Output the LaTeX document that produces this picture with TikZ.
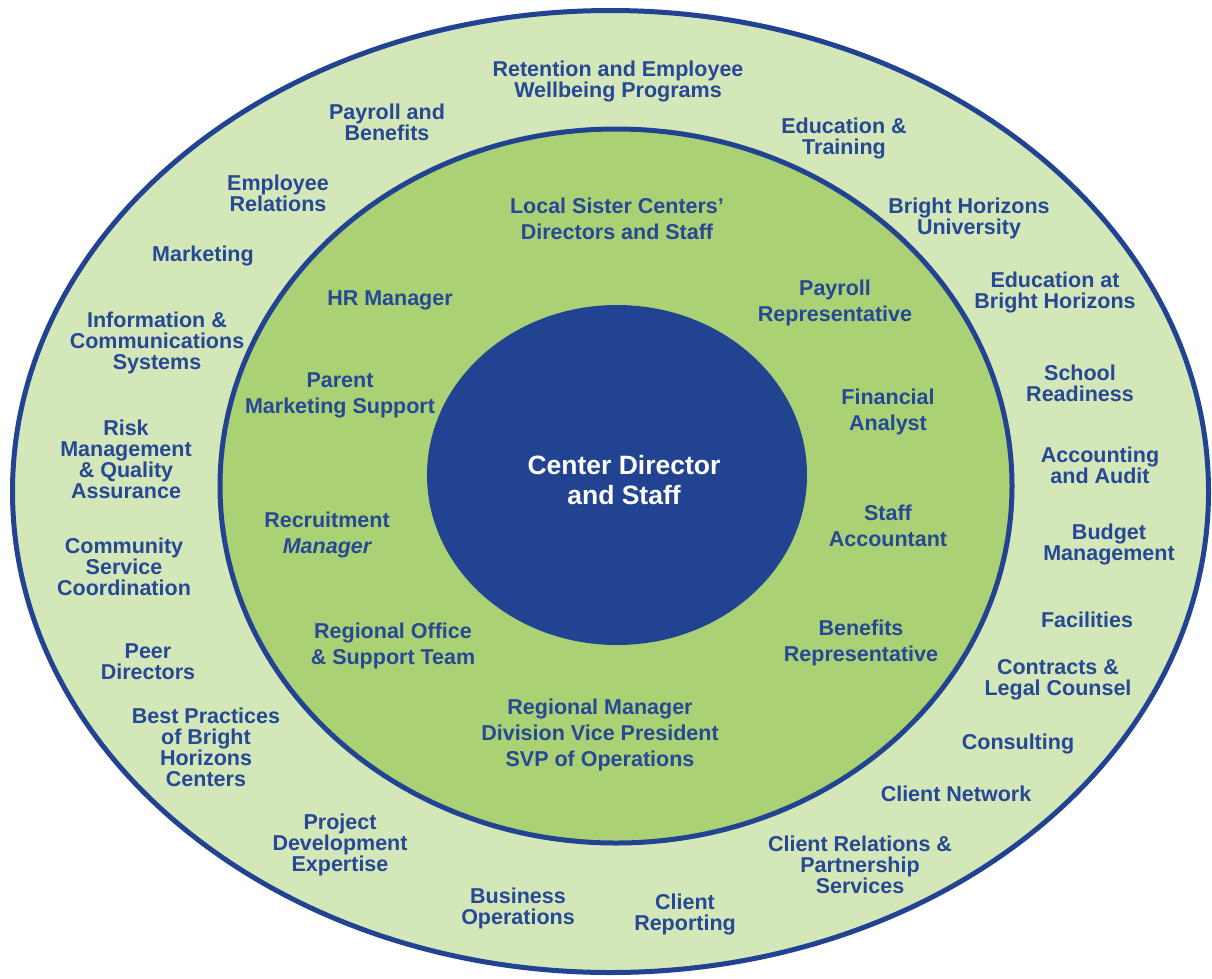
\documentclass[tikz,border=0pt]{standalone}
\usepackage{fontspec}
\setmainfont{Liberation Sans}
\definecolor{outerfill}{HTML}{D3E7B9}
\definecolor{midfill}{HTML}{ABD175}
\definecolor{ringblue}{HTML}{224391}
\definecolor{txtblue}{HTML}{274895}
\tikzset{
  outerlbl/.style={font=\fontsize{21.5}{21}\selectfont\bfseries, text=txtblue, align=center, inner sep=0pt, yshift=-2pt},
  midlbl/.style={font=\fontsize{21.5}{26}\selectfont\bfseries, text=txtblue, align=center, inner sep=0pt, yshift=-2pt},
  centerlbl/.style={font=\fontsize{26.5}{30}\selectfont\bfseries, text=white, align=center, inner sep=0pt, yshift=-1pt},
}
\begin{document}
\begin{tikzpicture}[x=1pt,y=-1pt]
\useasboundingbox (0,0) rectangle (1212,978);
% rings
\path[fill=outerfill, draw=ringblue, line width=5pt] (610.5,491.5) ellipse [x radius=598pt, y radius=481pt];
\path[fill=midfill, draw=ringblue, line width=5pt] (616,486) ellipse [x radius=396pt, y radius=357pt];
\path[fill=ringblue] (617,475) ellipse [x radius=190pt, y radius=170pt];
% center
\node[centerlbl] (core) at (624,479) {Center Director\\and Staff};
% middle ring
\node[midlbl] (m1) at (617,217) {Local Sister Centers'\\Directors and Staff};
\node[midlbl] (m2) at (390,298) {HR Manager};
\node[midlbl] (m3) at (835,301) {Payroll\\Representative};
\node[midlbl] (m4) at (340,393) {Parent\\Marketing Support};
\node[midlbl] (m5) at (888,410) {Financial\\Analyst};
\node[midlbl] (m6) at (327,533) {Recruitment\\{\itshape Manager}};
\node[midlbl] (m7) at (888,524) {Staff\\Accountant};
\node[midlbl] (m8) at (393,644) {Regional Office\\\& Support Team};
\node[midlbl] (m9) at (861,641) {Benefits\\Representative};
\node[midlbl] (m10) at (600,733) {Regional Manager\\Division Vice President\\SVP of Operations};
% outer ring
\node[outerlbl] (o1) at (618,79) {Retention and Employee\\Wellbeing Programs};
\node[outerlbl] (o2) at (387,120) {Payroll and\\Benefits};
\node[outerlbl] (o3) at (844,136) {Education \&\\Training};
\node[outerlbl] (o4) at (278,191) {Employee\\Relations};
\node[outerlbl] (o5) at (969,216) {Bright Horizons\\University};
\node[outerlbl] (o6) at (203,254) {Marketing};
\node[outerlbl] (o7) at (1055,290) {Education at\\Bright Horizons};
\node[outerlbl] (o8) at (157,341) {Information \&\\Communications\\Systems};
\node[outerlbl] (o9) at (1080,381) {School\\Readiness};
\node[outerlbl] (o10) at (126,457) {Risk\\Management\\\& Quality\\Assurance};
\node[outerlbl] (o11) at (1100,463) {Accounting\\and Audit};
\node[outerlbl] (o12) at (1109,542) {Budget\\Management};
\node[outerlbl] (o13) at (124,565) {Community\\Service\\Coordination};
\node[outerlbl] (o14) at (1087,618) {Facilities};
\node[outerlbl] (o15) at (148,660) {Peer\\Directors};
\node[outerlbl] (o16) at (1058,678) {Contracts \&\\Legal Counsel};
\node[outerlbl] (o17) at (206,745) {Best Practices\\of Bright\\Horizons\\Centers};
\node[outerlbl] (o18) at (1018,742) {Consulting};
\node[outerlbl] (o19) at (956,792) {Client Network};
\node[outerlbl] (o20) at (340,843) {Project\\Development\\Expertise};
\node[outerlbl] (o21) at (860,863) {Client Relations \&\\Partnership\\Services};
\node[outerlbl] (o22) at (518,906) {Business\\Operations};
\node[outerlbl] (o23) at (685,912) {Client\\Reporting};
\end{tikzpicture}
\end{document}
